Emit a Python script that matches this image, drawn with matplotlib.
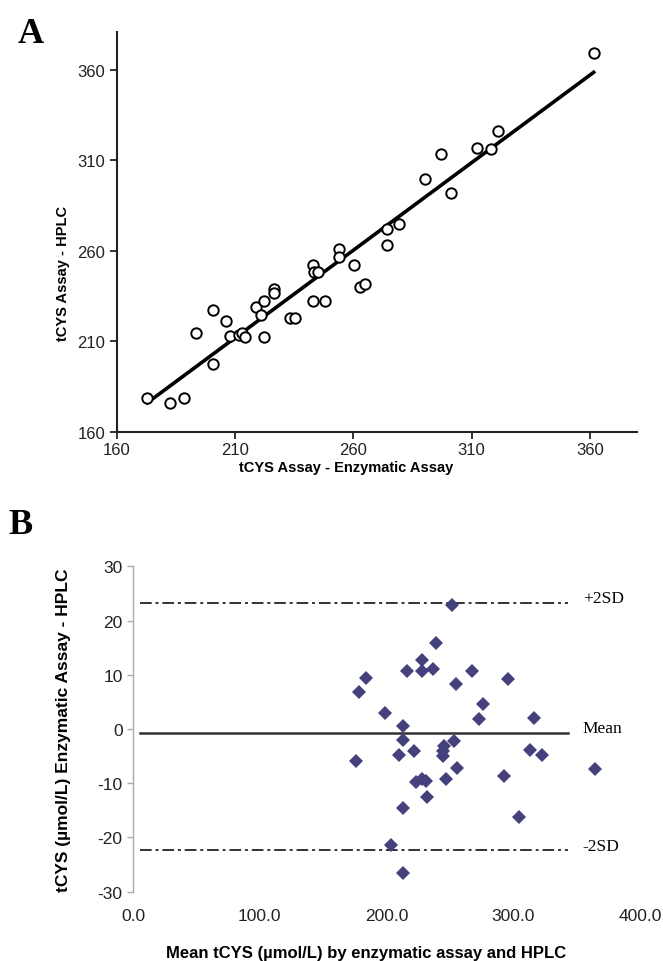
import numpy as np
import matplotlib
matplotlib.use("Agg")
import matplotlib.pyplot as plt

plt.rcParams['font.family'] = ['Liberation Sans', 'DejaVu Sans']
plt.rcParams['axes.unicode_minus'] = False

# panel A: enzymatic vs HPLC (umol/L)
enzymatic = [172.8, 182.5, 188.4, 193.5, 200.5, 200.5, 205.9, 207.9, 211.5, 213.0,
             214.0, 218.8, 220.9, 222.3, 222.0, 226.4, 226.4, 233.3, 235.4, 242.9,
             243.5, 245.0, 242.9, 247.8, 253.8, 253.8, 260.1, 262.7, 265.1, 274.0,
             274.0, 279.2, 290.2, 301.1, 297.0, 312.1, 318.0, 321.3, 361.6]
hplc = [178.8, 176.2, 178.8, 214.8, 227.5, 197.6, 221.3, 213.0, 213.5, 214.5,
        212.5, 229.2, 224.6, 232.2, 212.2, 239.2, 237.0, 223.0, 223.0, 252.0,
        248.5, 248.5, 232.2, 232.2, 261.0, 256.7, 252.0, 240.1, 242.0, 272.4,
        263.2, 274.8, 299.5, 292.2, 313.8, 316.7, 316.3, 326.3, 369.3]
a_ticks = [160, 210, 260, 310, 360]

# panel B: Bland-Altman
ba_mean = [251.9, 239.1, 227.8, 216.4, 227.8, 236.9, 267.2, 183.6, 178.3, 254.6,
           295.6, 276.4, 198.8, 272.7, 316.4, 212.8, 212.8, 209.9, 221.7, 175.7,
           245.4, 244.3, 244.3, 253.5, 255.9, 246.9, 223.3, 227.8, 231.2, 231.7,
           212.8, 203.3, 212.8, 292.9, 304.5, 313.2, 322.4, 364.5]
ba_diff = [22.9, 15.8, 12.7, 10.7, 10.7, 11.1, 10.7, 9.4, 6.9, 8.3,
           9.2, 4.6, 3.0, 1.8, 2.1, 0.6, -2.0, -4.7, -4.1, -5.9,
           -3.2, -4.1, -5.0, -2.3, -7.1, -9.2, -9.8, -9.3, -9.5, -12.5,
           -14.5, -21.4, -26.5, -8.6, -16.3, -3.9, -4.8, -7.4]
mean_diff = -0.7
upper_sd = 23.2
lower_sd = -22.3
line_x = [5.5, 343]
b_yticks = [-30, -20, -10, 0, 10, 20, 30]
b_xticks = [0, 100, 200, 300, 400]

fig = plt.figure(figsize=(6.63, 9.62), dpi=100)

# ---- A ----
ax1 = fig.add_axes([0.1765, 0.55, 0.7845, 0.4157])
ax1.plot(enzymatic, hplc, 'o', mfc='white', mec='black', mew=1.4, ms=7.5, zorder=3)
slope, icpt = np.polyfit(enzymatic, hplc, 1)
xs = np.array([min(enzymatic), max(enzymatic)])
ax1.plot(xs, slope * xs + icpt, color='black', lw=2.6, zorder=2)
ax1.set_xlim(160, 380)
ax1.set_ylim(160, 381)
ax1.set_xticks(a_ticks)
ax1.set_yticks(a_ticks)
for s in ['top', 'right']:
    ax1.spines[s].set_visible(False)
for s in ['left', 'bottom']:
    ax1.spines[s].set_linewidth(1.5)
    ax1.spines[s].set_color('#222222')
ax1.tick_params(direction='out', length=5, width=1.3, labelsize=12, colors='#222222')
ax1.tick_params(axis='x', pad=2.5)
ax1.set_xlabel('tCYS Assay - Enzymatic Assay', fontsize=10.5, fontweight='bold')
ax1.set_ylabel('tCYS Assay - HPLC', fontsize=10.5, fontweight='bold')
ax1.xaxis.set_label_coords(0.44, -0.07)
ax1.yaxis.set_label_coords(-0.09, 0.4)
fig.text(0.027, 0.955, 'A', family='Liberation Serif', fontweight='bold', fontsize=26)

# ---- B ----
ax2 = fig.add_axes([0.2006, 0.072, 0.7874, 0.3383])
ax2.plot(ba_mean, ba_diff, 'D', color='#45417d', ms=7, mew=0, zorder=3)
ax2.plot(line_x, [mean_diff, mean_diff], color='#333333', lw=1.8)
ax2.plot(line_x, [upper_sd, upper_sd], color='#333333', lw=1.4, ls=(0, (6, 2, 1.5, 2)))
ax2.plot(line_x, [lower_sd, lower_sd], color='#333333', lw=1.4, ls=(0, (6, 2, 1.5, 2)))
ax2.text(355, upper_sd + 1.0, '+2SD', family='Liberation Serif', fontsize=12.5, va='center')
ax2.text(355, mean_diff + 0.8, 'Mean', family='Liberation Serif', fontsize=12.5, va='center')
ax2.text(355, lower_sd + 0.8, '-2SD', family='Liberation Serif', fontsize=12.5, va='center')
ax2.set_xlim(0, 412)
ax2.set_ylim(-30, 30)
ax2.set_yticks(b_yticks)
ax2.set_xticks(b_xticks)
ax2.set_xticklabels([f'{v:.1f}' for v in b_xticks])
for s in ['top', 'right', 'bottom']:
    ax2.spines[s].set_visible(False)
ax2.spines['left'].set_color('#aaaaaa')
ax2.spines['left'].set_linewidth(1.0)
ax2.tick_params(axis='y', direction='out', length=4, width=1.0, color='#aaaaaa',
                labelsize=12.5, labelcolor='#222222')
ax2.tick_params(axis='x', length=0, pad=12, labelsize=12.5, labelcolor='#222222')
ax2.set_xlabel('Mean tCYS (µmol/L) by enzymatic assay and HPLC', fontsize=12,
               fontweight='bold')
ax2.set_ylabel('tCYS (µmol/L) Enzymatic Assay - HPLC', fontsize=12.5,
               fontweight='bold')
ax2.xaxis.set_label_coords(0.446, -0.165)
ax2.yaxis.set_label_coords(-0.118, 0.5)
fig.text(0.012, 0.445, 'B', family='Liberation Serif', fontweight='bold', fontsize=26)

fig.savefig('out.png', dpi=100)
